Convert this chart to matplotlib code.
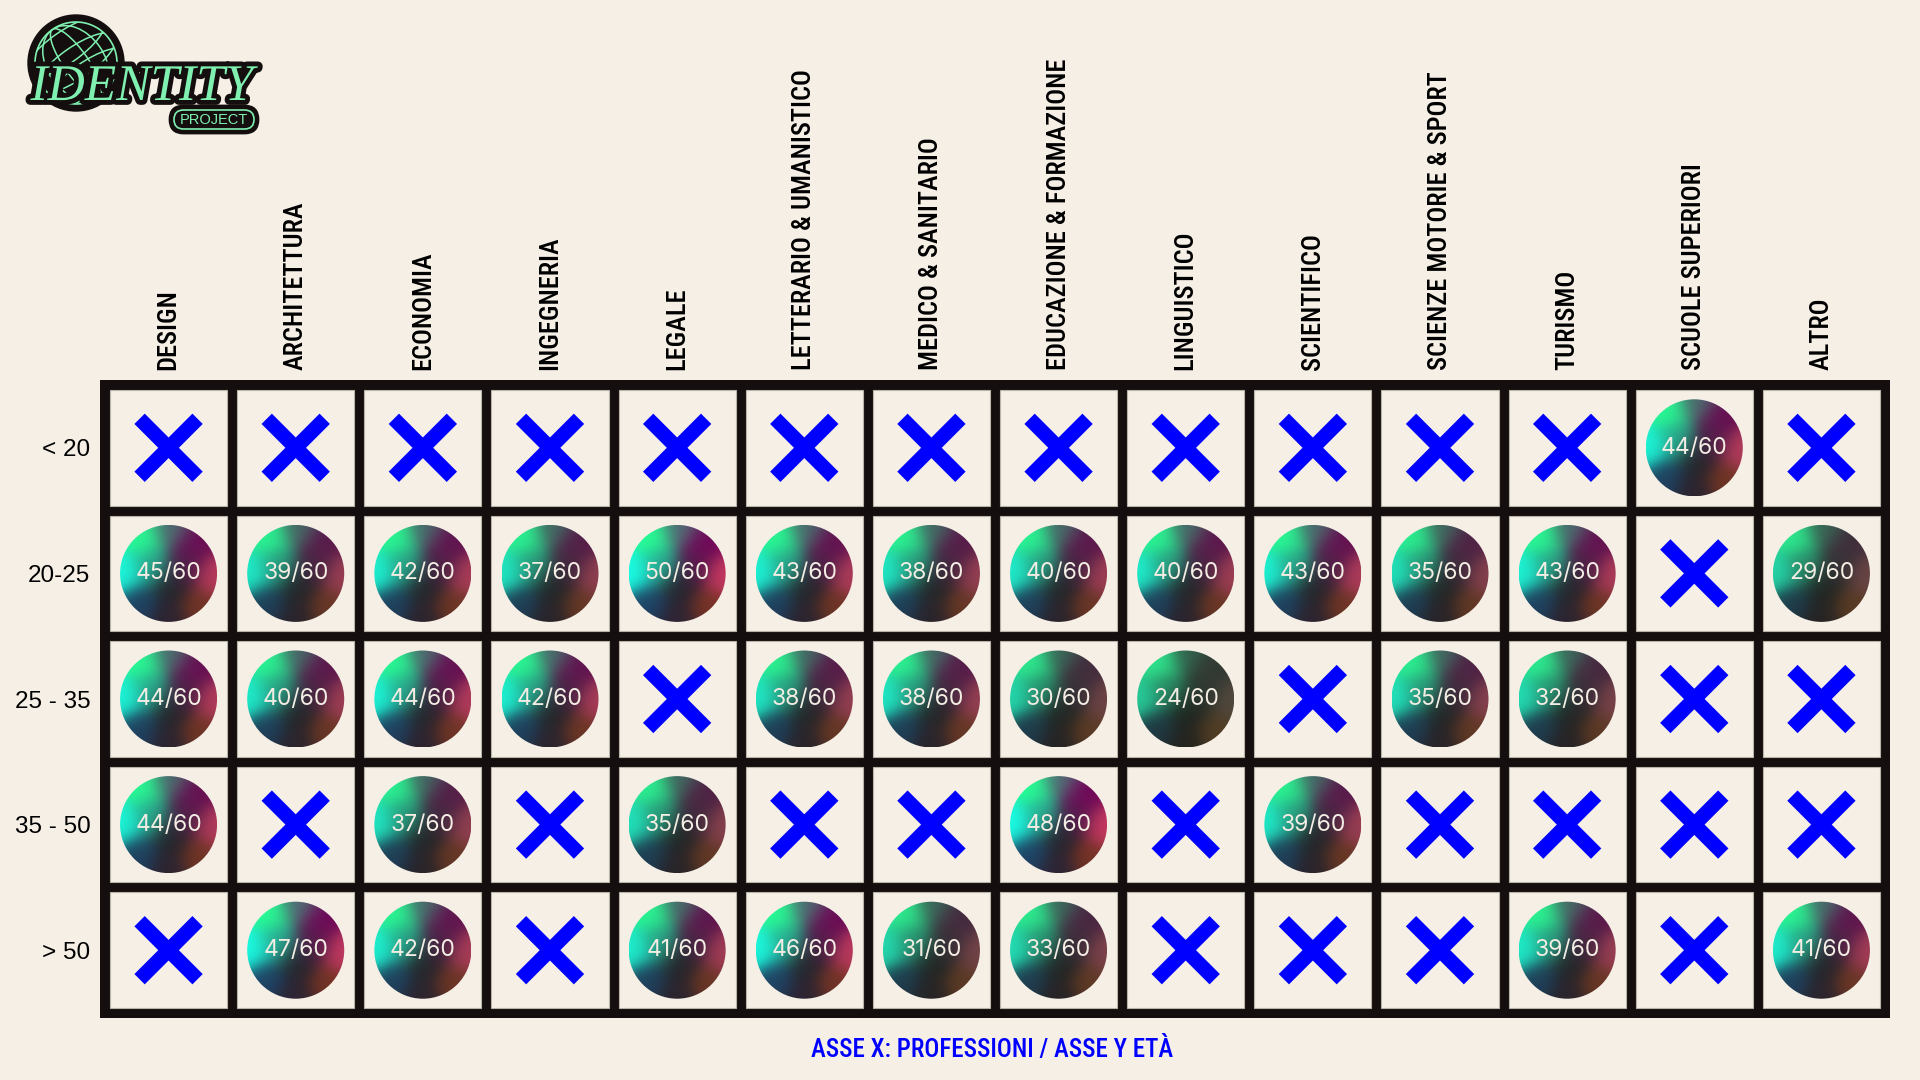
import numpy as np
import matplotlib
matplotlib.use('Agg')
import matplotlib.pyplot as plt
from matplotlib.patches import Rectangle, Ellipse, Circle, FancyBboxPatch
import matplotlib.patheffects as pe

professions = ['DESIGN', 'ARCHITETTURA', 'ECONOMIA', 'INGEGNERIA', 'LEGALE',
               'LETTERARIO & UMANISTICO', 'MEDICO & SANITARIO',
               'EDUCAZIONE & FORMAZIONE', 'LINGUISTICO', 'SCIENTIFICO',
               'SCIENZE MOTORIE & SPORT', 'TURISMO', 'SCUOLE SUPERIORI', 'ALTRO']
ages = ['< 20', '20-25', '25 - 35', '35 - 50', '> 50']

# punteggi su 60, None = nessuna risposta (croce)
under_20 = [None, None, None, None, None, None, None, None, None, None, None, None, 44, None]
age_20_25 = [45, 39, 42, 37, 50, 43, 38, 40, 40, 43, 35, 43, None, 29]
age_25_35 = [44, 40, 44, 42, None, 38, 38, 30, 24, None, 35, 32, None, None]
age_35_50 = [44, None, 37, None, 35, None, None, 48, None, 39, None, None, None, None]
over_50 = [None, 47, 42, None, 41, 46, 31, 33, None, None, None, 39, None, 41]
scores = [under_20, age_20_25, age_25_35, age_35_50, over_50]
max_score = 60

BG = '#f5efe6'
DARK = '#140e0e'
BLUE = '#0000ff'
NARROW = ['Roboto Condensed', 'Archivo Narrow', 'DejaVu Sans']

W, H = 1920, 1080
fig = plt.figure(figsize=(19.2, 10.8), dpi=100, facecolor=BG)

# grid axes, pixel box measured on the reference
left, top, right, bottom = 100, 380, 1890, 1018
ax = fig.add_axes([left / W, 1 - bottom / H, (right - left) / W, (bottom - top) / H])
ncol, nrow = len(professions), len(ages)
gap_px = 10
px_x = (right - left - gap_px) / ncol
px_y = (bottom - top - gap_px) / nrow
gx, gy = gap_px / px_x, gap_px / px_y
ax.set_xlim(-0.5 - gx / 2, ncol - 0.5 + gx / 2)
ax.set_ylim(nrow - 0.5 + gy / 2, -0.5 - gy / 2)
ax.set_facecolor(DARK)
for s in ax.spines.values():
    s.set_visible(False)

# sphere gradient: anchor position, colour for high score, colour for low score
anchors = [
    ((-0.95, 0.0), (0.10, 1.00, 0.90), (0.15, 0.80, 0.60)),
    ((-0.55, -0.80), (0.15, 1.00, 0.58), (0.18, 0.90, 0.55)),
    ((0.05, -0.95), (0.32, 0.42, 0.46), (0.20, 0.38, 0.30)),
    ((0.55, -0.65), (0.45, 0.02, 0.35), (0.20, 0.22, 0.20)),
    ((0.95, 0.05), (0.78, 0.22, 0.38), (0.32, 0.28, 0.24)),
    ((0.65, 0.70), (0.46, 0.20, 0.14), (0.32, 0.24, 0.14)),
    ((0.0, 0.95), (0.18, 0.14, 0.20), (0.14, 0.14, 0.12)),
    ((-0.62, 0.62), (0.12, 0.26, 0.40), (0.12, 0.22, 0.26)),
    ((-0.35, -0.15), (0.16, 0.68, 0.58), (0.16, 0.52, 0.38)),
    ((0.05, 0.25), (0.14, 0.14, 0.17), (0.12, 0.14, 0.12)),
    ((0.35, -0.15), (0.34, 0.10, 0.30), (0.18, 0.22, 0.19)),
]


def sphere_colors(n, t):
    u, v = np.meshgrid(np.linspace(-1, 1, n), np.linspace(-1, 1, n))
    num = np.zeros((n, n, 3))
    den = np.zeros((n, n))
    for (x0, y0), hi, lo in anchors:
        w = np.exp(-((u - x0) ** 2 + (v - y0) ** 2) / 0.14)
        col = np.array(lo) + (np.array(hi) - np.array(lo)) * t
        num += w[..., None] * col
        den += w
    return np.clip(num / den[..., None], 0, 1)


diam_px = 97
rx, ry = diam_px / 2 / px_x, diam_px / 2 / px_y
arm_px = 29
axm, aym = arm_px / px_x, arm_px / px_y

for r in range(nrow):
    for c in range(ncol):
        ax.add_patch(Rectangle((c - 0.5 + gx / 2, r - 0.5 + gy / 2), 1 - gx, 1 - gy,
                               facecolor=BG, edgecolor='#b9b2a8', lw=0.8, zorder=1))
        val = scores[r][c]
        if val is None:
            ax.plot([c - axm, c + axm], [r - aym, r + aym], color=BLUE, lw=10.5,
                    solid_capstyle='butt', zorder=3)
            ax.plot([c - axm, c + axm], [r + aym, r - aym], color=BLUE, lw=10.5,
                    solid_capstyle='butt', zorder=3)
        else:
            t = np.clip((val - 24) / (48 - 24), 0, 1)
            im = ax.imshow(sphere_colors(120, t), extent=(c - rx, c + rx, r + ry, r - ry),
                           origin='upper', aspect='auto', zorder=2, interpolation='bilinear')
            clip = Ellipse((c, r), 2 * rx, 2 * ry, transform=ax.transData)
            im.set_clip_path(clip)
            ax.text(c, r, f'{val}/{max_score}', ha='center', va='center', color='#f3ede4',
                    fontsize=16.5, family='Inter', zorder=4)

ax.set_xticks(range(ncol))
ax.set_xticklabels(professions, rotation=90, fontsize=19, family=NARROW, fontweight=500)
ax.xaxis.tick_top()
ax.set_yticks(range(nrow))
ax.set_yticklabels(ages, fontsize=17.5, family='Liberation Sans')
ax.tick_params(length=0, pad=7, colors='black')

fig.text(992 / W, 1 - 1050 / H, 'ASSE X: PROFESSIONI / ASSE Y ETÀ', color=BLUE,
         fontsize=18, family=NARROW, fontweight=500, ha='center', va='center')

# logo
lax = fig.add_axes([0, 1 - 150 / H, 300 / W, 150 / H])
lax.set_xlim(0, 300)
lax.set_ylim(150, 0)
lax.axis('off')
GREEN = '#7ff0b0'
lax.add_patch(Circle((76, 63), 48, facecolor=DARK, edgecolor=DARK, zorder=1))
globe = Circle((76, 63), 41, facecolor='none', edgecolor=GREEN, lw=1.2, zorder=2)
lax.add_patch(globe)
for wfrac in [0.3, 0.7]:
    e = Ellipse((76, 63), 82 * wfrac, 82, angle=-35, facecolor='none', edgecolor=GREEN,
                lw=1.1, zorder=2)
    lax.add_patch(e)
    e.set_clip_path(globe)
for off in [-22, 0, 22]:
    e = Ellipse((76 + off * 0.5, 63 + off * 0.7), 95, 32, angle=-35, facecolor='none',
                edgecolor=GREEN, lw=1.1, zorder=2)
    lax.add_patch(e)
    e.set_clip_path(globe)
lax.text(142, 100, 'IDENTITY', family='Liberation Serif', style='italic', fontsize=37,
         color=GREEN, ha='center', va='baseline', zorder=3,
         path_effects=[pe.withStroke(linewidth=7, foreground=DARK)])
lax.add_patch(FancyBboxPatch((170, 106), 88, 27, boxstyle='round,pad=0,rounding_size=13.5',
                             facecolor=DARK, edgecolor=DARK, lw=2, zorder=3))
lax.add_patch(FancyBboxPatch((174, 110), 80, 19, boxstyle='round,pad=0,rounding_size=9.5',
                             facecolor='none', edgecolor=GREEN, lw=1.2, zorder=4))
lax.text(214, 120, 'PROJECT', family='Liberation Sans', fontsize=10.5, color=GREEN,
         ha='center', va='center', zorder=5)

fig.savefig('out.png', dpi=100, facecolor=BG)
